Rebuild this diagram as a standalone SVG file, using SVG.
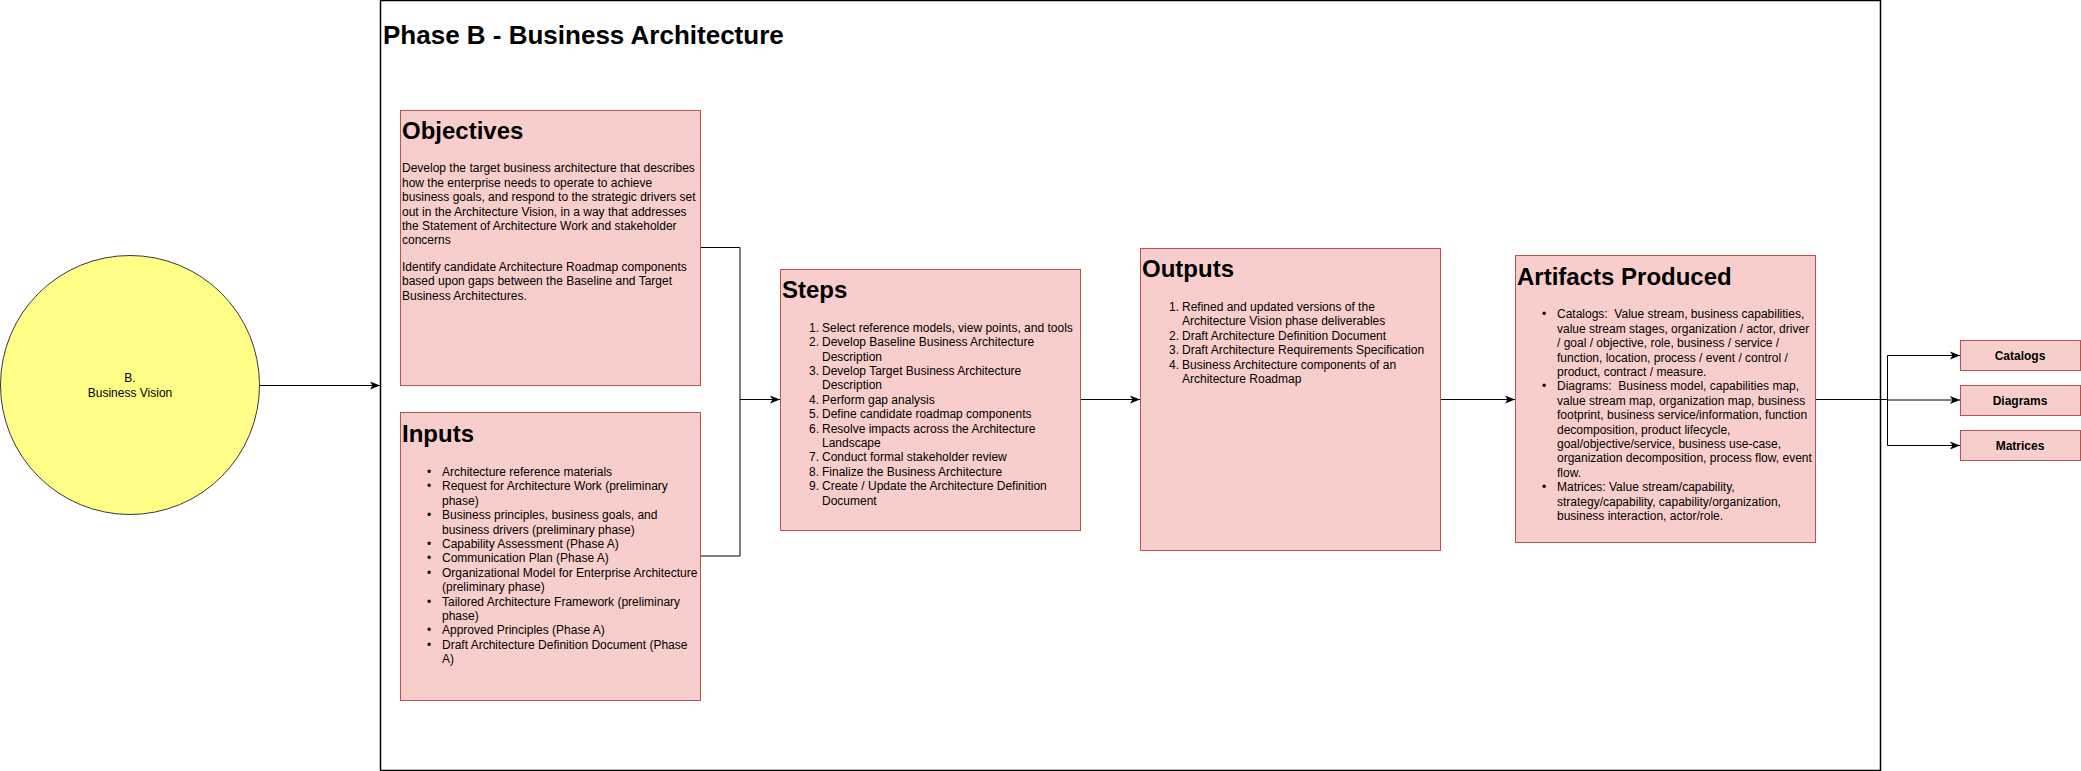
<svg xmlns="http://www.w3.org/2000/svg" width="2081" height="771" viewBox="0 0 2081 771">
<style>
text{font-family:"Liberation Sans",Arial,Helvetica,sans-serif;fill:#000}
.box{fill:#f8cecc;stroke:#b85450;stroke-width:1}
.h{font-size:24px;font-weight:bold}
.b{font-size:12px}
.s{font-size:12px;font-weight:bold;text-anchor:middle}
.e{fill:none;stroke:#000;stroke-width:1}
</style>
<defs>
<marker id="arr" viewBox="0 0 10 10" refX="10" refY="5" markerWidth="10" markerHeight="10" markerUnits="userSpaceOnUse" orient="auto">
<path d="M0,1 L10,5 L0,9 L2.5,5 Z" fill="#000"/>
</marker>
</defs>
<rect width="2081" height="771" fill="#fff"/>
<g id="phase">
<rect x="380.5" y="0.5" width="1500" height="770" fill="none" stroke="#000" stroke-width="1.5"/>
<text class="h" x="383" y="44" style="font-size:26px">Phase B - Business Architecture</text>
</g>
<g id="connectors">
<path class="e" d="M260,385.5 L380,385.5" marker-end="url(#arr)"/>
<path class="e" d="M700,247.5 L740,247.5 L740,399.5 L780,399.5" marker-end="url(#arr)"/>
<path class="e" d="M700,556 L740,556 L740,399.5"/>
<path class="e" d="M1080,399.5 L1140,399.5" marker-end="url(#arr)"/>
<path class="e" d="M1440,399.5 L1515,399.5" marker-end="url(#arr)"/>
<path class="e" d="M1815,399.5 L1887.5,399.5 L1887.5,355.5 L1960,355.5" marker-end="url(#arr)"/>
<path class="e" d="M1887.5,399.5 L1887.5,400 L1960,400" marker-end="url(#arr)"/>
<path class="e" d="M1887.5,399.5 L1887.5,445.5 L1960,445.5" marker-end="url(#arr)"/>
</g>
<g id="vision">
<circle cx="130" cy="385" r="129.5" fill="#ffff88" stroke="#36393d" stroke-width="1"/>
<text class="b" x="130" y="382" text-anchor="middle">B.</text>
<text class="b" x="130" y="397" text-anchor="middle">Business Vision</text>
</g>
<g id="objectives">
<rect class="box" x="400.5" y="110.5" width="300" height="275"/>
<text class="h" x="402" y="139">Objectives</text>
<text class="b" x="402">
<tspan x="402" y="172.3">Develop the target business architecture that describes</tspan>
<tspan x="402" y="186.7">how the enterprise needs to operate to achieve</tspan>
<tspan x="402" y="201.1">business goals, and respond to the strategic drivers set</tspan>
<tspan x="402" y="215.5">out in the Architecture Vision, in a way that addresses</tspan>
<tspan x="402" y="229.9">the Statement of Architecture Work and stakeholder</tspan>
<tspan x="402" y="244.3">concerns</tspan>
<tspan x="402" y="271">Identify candidate Architecture Roadmap components</tspan>
<tspan x="402" y="285.4">based upon gaps between the Baseline and Target</tspan>
<tspan x="402" y="299.8">Business Architectures.</tspan>
</text>
</g>
<g id="inputs">
<rect class="box" x="400.5" y="412.5" width="300" height="288"/>
<text class="h" x="402" y="442">Inputs</text>
<text class="b">
<tspan x="427" y="476">•</tspan><tspan x="442" y="476">Architecture reference materials</tspan>
<tspan x="427" y="490.4">•</tspan><tspan x="442" y="490.4">Request for Architecture Work (preliminary</tspan>
<tspan x="442" y="504.8">phase)</tspan>
<tspan x="427" y="519.2">•</tspan><tspan x="442" y="519.2">Business principles, business goals, and</tspan>
<tspan x="442" y="533.6">business drivers (preliminary phase)</tspan>
<tspan x="427" y="548">•</tspan><tspan x="442" y="548">Capability Assessment (Phase A)</tspan>
<tspan x="427" y="562.4">•</tspan><tspan x="442" y="562.4">Communication Plan (Phase A)</tspan>
<tspan x="427" y="576.8">•</tspan><tspan x="442" y="576.8">Organizational Model for Enterprise Architecture</tspan>
<tspan x="442" y="591.2">(preliminary phase)</tspan>
<tspan x="427" y="605.6">•</tspan><tspan x="442" y="605.6">Tailored Architecture Framework (preliminary</tspan>
<tspan x="442" y="620">phase)</tspan>
<tspan x="427" y="634.4">•</tspan><tspan x="442" y="634.4">Approved Principles (Phase A)</tspan>
<tspan x="427" y="648.8">•</tspan><tspan x="442" y="648.8">Draft Architecture Definition Document (Phase</tspan>
<tspan x="442" y="663.2">A)</tspan>
</text>
</g>
<g id="steps">
<rect class="box" x="780.5" y="269.5" width="300" height="261"/>
<text class="h" x="782" y="298">Steps</text>
<text class="b">
<tspan x="819" y="331.7" text-anchor="end">1.</tspan><tspan x="822" y="331.7">Select reference models, view points, and tools</tspan>
<tspan x="819" y="346.1" text-anchor="end">2.</tspan><tspan x="822" y="346.1">Develop Baseline Business Architecture</tspan>
<tspan x="822" y="360.5">Description</tspan>
<tspan x="819" y="374.9" text-anchor="end">3.</tspan><tspan x="822" y="374.9">Develop Target Business Architecture</tspan>
<tspan x="822" y="389.3">Description</tspan>
<tspan x="819" y="403.7" text-anchor="end">4.</tspan><tspan x="822" y="403.7">Perform gap analysis</tspan>
<tspan x="819" y="418.1" text-anchor="end">5.</tspan><tspan x="822" y="418.1">Define candidate roadmap components</tspan>
<tspan x="819" y="432.5" text-anchor="end">6.</tspan><tspan x="822" y="432.5">Resolve impacts across the Architecture</tspan>
<tspan x="822" y="446.9">Landscape</tspan>
<tspan x="819" y="461.3" text-anchor="end">7.</tspan><tspan x="822" y="461.3">Conduct formal stakeholder review</tspan>
<tspan x="819" y="475.7" text-anchor="end">8.</tspan><tspan x="822" y="475.7">Finalize the Business Architecture</tspan>
<tspan x="819" y="490.1" text-anchor="end">9.</tspan><tspan x="822" y="490.1">Create / Update the Architecture Definition</tspan>
<tspan x="822" y="504.5">Document</tspan>
</text>
</g>
<g id="outputs">
<rect class="box" x="1140.5" y="248.5" width="300" height="302"/>
<text class="h" x="1142" y="277">Outputs</text>
<text class="b">
<tspan x="1179" y="311" text-anchor="end">1.</tspan><tspan x="1182" y="311">Refined and updated versions of the</tspan>
<tspan x="1182" y="325.4">Architecture Vision phase deliverables</tspan>
<tspan x="1179" y="339.8" text-anchor="end">2.</tspan><tspan x="1182" y="339.8">Draft Architecture Definition Document</tspan>
<tspan x="1179" y="354.2" text-anchor="end">3.</tspan><tspan x="1182" y="354.2">Draft Architecture Requirements Specification</tspan>
<tspan x="1179" y="368.6" text-anchor="end">4.</tspan><tspan x="1182" y="368.6">Business Architecture components of an</tspan>
<tspan x="1182" y="383">Architecture Roadmap</tspan>
</text>
</g>
<g id="artifacts">
<rect class="box" x="1515.5" y="255.5" width="300" height="287"/>
<text class="h" x="1517" y="285">Artifacts Produced</text>
<text class="b">
<tspan x="1542" y="318.3">•</tspan><tspan x="1557" y="318.3">Catalogs: &#160;Value stream, business capabilities,</tspan>
<tspan x="1557" y="332.7">value stream stages, organization / actor, driver</tspan>
<tspan x="1557" y="347.1">/ goal / objective, role, business / service /</tspan>
<tspan x="1557" y="361.5">function, location, process / event / control /</tspan>
<tspan x="1557" y="375.9">product, contract / measure.</tspan>
<tspan x="1542" y="390.3">•</tspan><tspan x="1557" y="390.3">Diagrams: &#160;Business model, capabilities map,</tspan>
<tspan x="1557" y="404.7">value stream map, organization map, business</tspan>
<tspan x="1557" y="419.1">footprint, business service/information, function</tspan>
<tspan x="1557" y="433.5">decomposition, product lifecycle,</tspan>
<tspan x="1557" y="447.9">goal/objective/service, business use-case,</tspan>
<tspan x="1557" y="462.3">organization decomposition, process flow, event</tspan>
<tspan x="1557" y="476.7">flow.</tspan>
<tspan x="1542" y="491.1">•</tspan><tspan x="1557" y="491.1">Matrices: Value stream/capability,</tspan>
<tspan x="1557" y="505.5">strategy/capability, capability/organization,</tspan>
<tspan x="1557" y="519.9">business interaction, actor/role.</tspan>
</text>
</g>
<g id="catalogs">
<rect class="box" x="1960.5" y="340.5" width="120" height="30"/>
<text class="s" x="2020" y="359.5">Catalogs</text>
</g>
<g id="diagrams">
<rect class="box" x="1960.5" y="385.5" width="120" height="30"/>
<text class="s" x="2020" y="404.5">Diagrams</text>
</g>
<g id="matrices">
<rect class="box" x="1960.5" y="430.5" width="120" height="30"/>
<text class="s" x="2020" y="449.5">Matrices</text>
</g>
</svg>
